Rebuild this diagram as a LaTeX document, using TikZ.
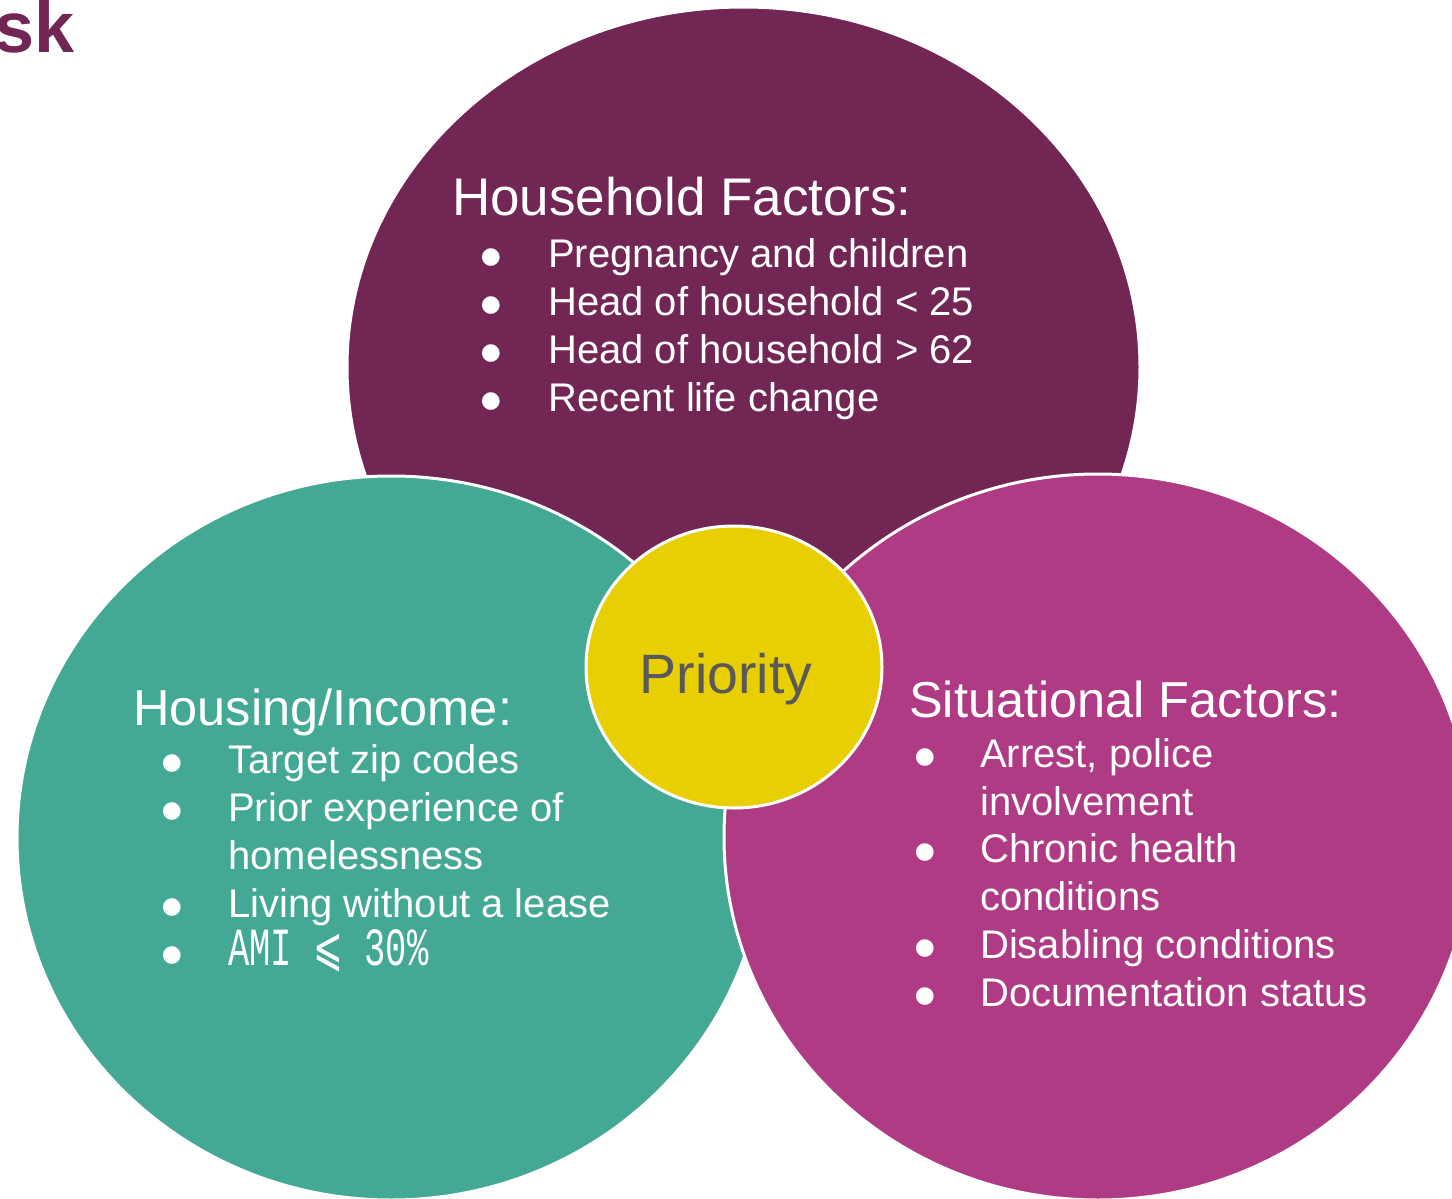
\documentclass[tikz,border=0pt]{standalone}
\usepackage{fontspec}
\setmainfont{Liberation Sans}
\newfontfamily\amifont{Liberation Mono}
\newfontfamily\symfont{DejaVu Sans}
\usetikzlibrary{shapes.geometric}
\definecolor{cpurple}{HTML}{722654}
\definecolor{cteal}{HTML}{44A994}
\definecolor{cmagenta}{HTML}{AF3B84}
\definecolor{cyellow}{HTML}{E8CF04}
\definecolor{cgray}{HTML}{595959}
\newcommand{\bigdot}{\raisebox{4pt}{\fontsize{23}{26}\symfont ●}}
\begin{document}
\begin{tikzpicture}[x=1pt,y=-1pt,
  blob/.style={ellipse, draw=white, line width=3pt, inner sep=0pt},
  headtext/.style={anchor=base west, text=white, inner sep=0pt, font=\fontsize{53}{60}\selectfont},
  smallhead/.style={anchor=base west, text=white, inner sep=0pt, font=\fontsize{50.5}{58}\selectfont},
  itemtext/.style={anchor=base west, text=white, inner sep=0pt, font=\fontsize{40}{48}\selectfont},
  bullettext/.style={anchor=base, text=white, inner sep=0pt, font=\fontsize{40}{48}\selectfont}]
\useasboundingbox (0,0) rectangle (1452,1199);

% circles
\node[blob, fill=cpurple, minimum width=793pt, minimum height=720pt] (household) at (743.5,367) {};
\node[blob, fill=cteal, minimum width=748pt, minimum height=724pt] (housing) at (391,838) {};
\node[blob, fill=cmagenta, minimum width=748pt, minimum height=726pt] (situational) at (1098,837) {};
\node[blob, fill=cyellow, minimum width=296pt, minimum height=282pt] (priority) at (734,667) {};

% partial title
\node[anchor=base east, inner sep=0pt, text=cpurple, font=\fontsize{72}{76}\selectfont\bfseries] (risk) at (75,53) {sk};

% priority label
\node[anchor=base, inner sep=0pt, text=cgray, font=\fontsize{55.5}{60}\selectfont] (prioritylabel) at (726,693) {Priority};

% household factors
\node[headtext] (hhtitle) at (452,215) {Household Factors:};
\node[bullettext] (hhb1) at (491,267) {\bigdot};
\node[itemtext] (hh1) at (548,267) {Pregnancy and children};
\node[bullettext] (hhb2) at (491,315) {\bigdot};
\node[itemtext] (hh2) at (548,315) {Head of household < 25};
\node[bullettext] (hhb3) at (491,363) {\bigdot};
\node[itemtext] (hh3) at (548,363) {Head of household > 62};
\node[bullettext] (hhb4) at (491,411) {\bigdot};
\node[itemtext] (hh4) at (548,411) {Recent life change};

% housing / income
\node[smallhead] (hititle) at (133,725) {Housing/Income:};
\node[bullettext] (hib1) at (172,773) {\bigdot};
\node[itemtext] (hi1) at (228,773) {Target zip codes};
\node[bullettext] (hib2) at (172,821) {\bigdot};
\node[itemtext] (hi2) at (228,821) {Prior experience of};
\node[itemtext] (hi2b) at (228,869) {homelessness};
\node[bullettext] (hib3) at (172,917) {\bigdot};
\node[itemtext] (hi3) at (228,917) {Living without a lease};
\node[bullettext] (hib4) at (172,965) {\bigdot};
\node[itemtext] (hi4) at (228,965) {\scalebox{0.96}[1.45]{\fontsize{37}{40}\amifont AMI {\symfont ⩽} 30\%}};

% situational factors
\node[smallhead] (sftitle) at (909,717) {Situational Factors:};
\node[bullettext] (sfb1) at (925,767) {\bigdot};
\node[itemtext] (sf1) at (980,767) {Arrest, police};
\node[itemtext] (sf1b) at (980,815) {involvement};
\node[bullettext] (sfb2) at (925,862) {\bigdot};
\node[itemtext] (sf2) at (980,862) {Chronic health};
\node[itemtext] (sf2b) at (980,910) {conditions};
\node[bullettext] (sfb3) at (925,958) {\bigdot};
\node[itemtext] (sf3) at (980,958) {Disabling conditions};
\node[bullettext] (sfb4) at (925,1006) {\bigdot};
\node[itemtext] (sf4) at (980,1006) {Documentation status};
\end{tikzpicture}
\end{document}
